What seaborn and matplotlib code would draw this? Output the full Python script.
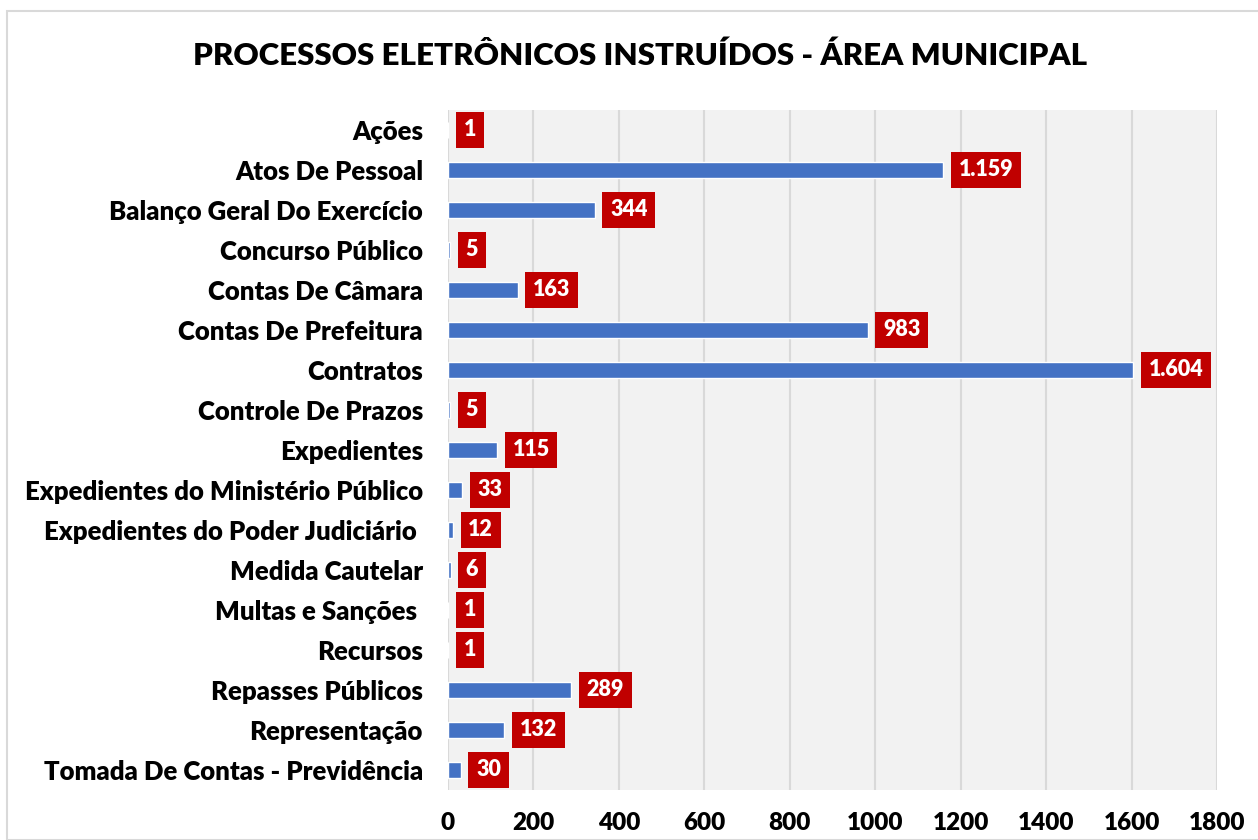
import matplotlib
matplotlib.use("Agg")
import matplotlib.pyplot as plt
import seaborn as sns
import pandas as pd
from matplotlib.patches import Rectangle

categories = ["Ações", "Atos De Pessoal", "Balanço Geral Do Exercício", "Concurso Público",
              "Contas De Câmara", "Contas De Prefeitura", "Contratos", "Controle De Prazos",
              "Expedientes", "Expedientes do Ministério Público", "Expedientes do Poder Judiciário ",
              "Medida Cautelar", "Multas e Sanções ", "Recursos", "Repasses Públicos",
              "Representação", "Tomada De Contas - Previdência"]
values = [1, 1159, 344, 5, 163, 983, 1604, 5, 115, 33, 12, 6, 1, 1, 289, 132, 30]
x_ticks = [0, 200, 400, 600, 800, 1000, 1200, 1400, 1600, 1800]
title = "PROCESSOS ELETRÔNICOS INSTRUÍDOS - ÁREA MUNICIPAL"

sns.set_theme(style="white")
plt.rcParams['font.family'] = ['Lato', 'DejaVu Sans']

df = pd.DataFrame({"cat": categories, "val": values})

fig = plt.figure(figsize=(12.58, 8.40), dpi=100)
fig.patches.append(Rectangle((7/1258, 0), 1, 1 - 11/840, transform=fig.transFigure,
                             fill=False, edgecolor="#D9D9D9", linewidth=1.5))
ax = fig.add_axes([448/1258, 1 - 790/840, (1217 - 448)/1258, 680/840])
ax.set_facecolor("#F2F2F2")

sns.barplot(data=df, x="val", y="cat", orient="h", color="#4472C4", width=0.4,
            saturation=1, ax=ax)

ax.set_xlim(0, 1800)
ax.set_ylim(len(categories) - 0.5, -0.5)
ax.set_xticks(x_ticks)
ax.set_xticklabels([str(t) for t in x_ticks], fontsize=17.5, fontweight="heavy", color="black")
ax.tick_params(axis="x", length=0, pad=16)
ax.tick_params(axis="y", length=0, pad=18)
for lbl in ax.get_yticklabels():
    lbl.set_fontsize(18.5)
    lbl.set_fontweight("heavy")
    lbl.set_color("black")
ax.xaxis.grid(True, color="#D9D9D9", linewidth=1.5)
ax.set_axisbelow(True)
for s in ax.spines.values():
    s.set_visible(False)
ax.set_xlabel("")
ax.set_ylabel("")

for i, v in enumerate(values):
    txt = f"{v:,}".replace(",", ".")
    ax.annotate(txt, xy=(v, i), xytext=(11, 0), textcoords="offset points",
                va="center", ha="left", color="white", fontsize=15.5, fontweight="heavy",
                bbox=dict(boxstyle="square,pad=0.36", fc="#C00000", ec="none"))

fig.text(640/1258, 1 - 56/840, title, ha="center", va="center", fontsize=22.5,
         fontweight="heavy", color="black")

fig.savefig("out.png", dpi=100)
